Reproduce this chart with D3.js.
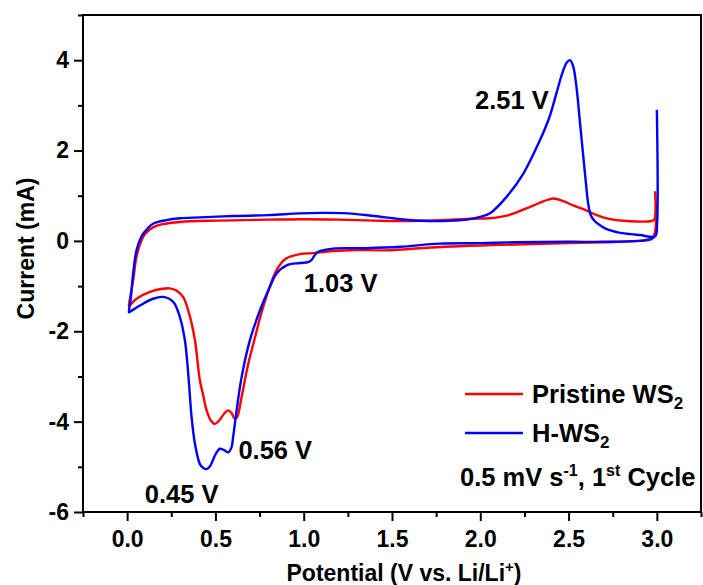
<!DOCTYPE html>
<html>
<head>
<meta charset="utf-8">
<script src="https://cdn.jsdelivr.net/npm/d3@7/dist/d3.min.js"></script>
<style>
  html, body { margin: 0; padding: 0; background: #ffffff; }
  svg { display: block; font-family: "Liberation Sans", Arial, sans-serif; font-weight: bold; }
</style>
</head>
<body>
<svg id="chart" width="703" height="585"></svg>
<script>
// ---------------- DATA ----------------
const seriesNames = ["Pristine WS", "H-WS"];
const seriesColors = ["#ff0000", "#0000ff"];

// Pristine WS2 : scan order (cathodic 3.0 -> 0.01 V, then anodic back to 3.0 V)
const pristineV = [2.99, 2.99, 2.97, 2.9, 2.7, 2.5, 2.2, 2.0, 1.8, 1.6, 1.45, 1.3, 1.15, 1.05, 0.98, 0.9, 0.85, 0.8, 0.76, 0.72, 0.686, 0.648, 0.623, 0.61, 0.59, 0.572, 0.55, 0.52, 0.497, 0.475, 0.45, 0.43, 0.412, 0.384, 0.356, 0.317, 0.28, 0.24, 0.2, 0.129, 0.053, 0.015, 0.01,
  0.015, 0.034, 0.053, 0.08, 0.1, 0.147, 0.2, 0.3, 0.5, 0.8, 1.0, 1.2, 1.4, 1.6, 1.77, 1.95, 2.05, 2.15, 2.28, 2.36, 2.414, 2.47, 2.53, 2.603, 2.66, 2.716, 2.83, 2.97, 2.985, 2.99];
const pristineI = [1.1, 0.2, 0.04, 0.0, -0.03, -0.05, -0.08, -0.1, -0.13, -0.18, -0.21, -0.2, -0.23, -0.27, -0.29, -0.39, -0.62, -1.1, -1.6, -2.2, -2.72, -3.46, -3.9, -3.94, -3.8, -3.75, -3.82, -3.98, -4.05, -3.98, -3.75, -3.4, -3.09, -2.2, -1.68, -1.24, -1.1, -1.05, -1.06, -1.13, -1.28, -1.43, -1.45,
  -1.3, -0.87, -0.35, 0.0, 0.15, 0.3, 0.37, 0.42, 0.45, 0.47, 0.48, 0.47, 0.45, 0.44, 0.46, 0.49, 0.5, 0.56, 0.75, 0.88, 0.94, 0.88, 0.78, 0.67, 0.57, 0.5, 0.44, 0.44, 0.47, 1.1];

// H-WS2
const hws2V = [3.0, 3.0, 2.99, 2.96, 2.9, 2.7, 2.5, 2.2, 2.0, 1.77, 1.545, 1.35, 1.167, 1.082, 1.06, 1.045, 1.025, 0.978, 0.903, 0.846, 0.808, 0.752, 0.695, 0.648, 0.62, 0.6, 0.591, 0.572, 0.55, 0.525, 0.51, 0.497, 0.47, 0.45, 0.43, 0.412, 0.384, 0.365, 0.346, 0.327, 0.299, 0.261, 0.204, 0.147, 0.072, 0.015, 0.01,
  0.02, 0.034, 0.053, 0.08, 0.11, 0.147, 0.223, 0.3, 0.412, 0.6, 0.8, 0.978, 1.1, 1.25, 1.4, 1.55, 1.7, 1.85, 1.923, 2.0, 2.055, 2.15, 2.244, 2.338, 2.39, 2.43, 2.465, 2.49, 2.508, 2.525, 2.545, 2.565, 2.593, 2.612, 2.625, 2.645, 2.68, 2.716, 2.78, 2.85, 2.905, 2.99, 3.0];
const hws2I = [2.9, 0.3, 0.1, 0.04, 0.0, -0.02, -0.02, -0.03, -0.05, -0.06, -0.13, -0.16, -0.17, -0.24, -0.33, -0.42, -0.47, -0.49, -0.54, -0.72, -1.02, -1.54, -2.2, -3.02, -3.75, -4.35, -4.57, -4.68, -4.63, -4.6, -4.66, -4.75, -4.98, -5.05, -5.02, -4.94, -4.49, -3.9, -2.94, -2.2, -1.69, -1.35, -1.24, -1.28, -1.43, -1.57, -1.58,
  -1.3, -0.72, -0.21, 0.09, 0.25, 0.38, 0.46, 0.5, 0.52, 0.55, 0.57, 0.61, 0.62, 0.61, 0.55, 0.48, 0.44, 0.45, 0.47, 0.53, 0.61, 0.98, 1.49, 2.23, 2.72, 3.25, 3.72, 3.95, 4.0, 3.88, 3.4, 2.6, 1.49, 0.8, 0.58, 0.45, 0.34, 0.26, 0.19, 0.15, 0.13, 0.1, 0.3];

const xMajorTicks = [0.0, 0.5, 1.0, 1.5, 2.0, 2.5, 3.0];
const xMinorTicks = [-0.25, 0.25, 0.75, 1.25, 1.75, 2.25, 2.75, 3.25];
const yMajorTicks = [-6, -4, -2, 0, 2, 4];
const yMinorTicks = [-5, -3, -1, 1, 3, 5];

const peakLabels = ["2.51 V", "1.03 V", "0.56 V", "0.45 V"];
const peakLabelV = [1.97, 1.0, 0.63, 0.1];
const peakLabelI = [2.92, -1.12, -4.83, -5.8];

// ---------------- CHART ----------------
const svg = d3.select("#chart");
const L = 83, R = 701, T = 15, B = 512;
const x = d3.scaleLinear().domain([-0.25, 3.25]).range([L, R]);
const y = d3.scaleLinear().domain([-6, 5]).range([B, T]);

svg.append("rect").attr("width", 703).attr("height", 585).attr("fill", "#ffffff");

const line = d3.line()
  .x(d => x(d[0])).y(d => y(d[1]))
  .curve(d3.curveCatmullRom.alpha(0.5));

const series = [
  d3.zip(pristineV, pristineI),
  d3.zip(hws2V, hws2I)
];

const plot = svg.append("g");
series.forEach((pts, i) => {
  plot.append("path")
    .attr("d", line(pts))
    .attr("fill", "none")
    .attr("stroke", seriesColors[i])
    .attr("stroke-width", 2.4)
    .attr("stroke-linejoin", "round");
});

// axes
const tickFs = 23, titleFs = 23, annFs = 25.5;
svg.append("g").attr("transform", `translate(0,${B})`)
  .call(d3.axisBottom(x).tickValues(xMajorTicks).tickSize(9).tickPadding(10).tickFormat(d3.format(".1f")));
svg.append("g").attr("transform", `translate(0,${B})`)
  .call(d3.axisBottom(x).tickValues(xMinorTicks).tickSize(5).tickFormat(""));
svg.append("g").attr("transform", `translate(${L},0)`)
  .call(d3.axisLeft(y).tickValues(yMajorTicks).tickSize(9).tickPadding(5).tickFormat(d => String(d)));
svg.append("g").attr("transform", `translate(${L},0)`)
  .call(d3.axisLeft(y).tickValues(yMinorTicks).tickSize(5).tickFormat(""));

svg.selectAll(".domain").remove();
svg.selectAll(".tick line").attr("stroke", "#000").attr("stroke-width", 2);
svg.selectAll(".tick text")
  .attr("fill", "#000")
  .style("font-family", '"Liberation Sans", Arial, sans-serif')
  .style("font-weight", "bold")
  .style("font-size", tickFs + "px");

// frame
svg.append("rect")
  .attr("x", L).attr("y", T).attr("width", R - L).attr("height", B - T)
  .attr("fill", "none").attr("stroke", "#000").attr("stroke-width", 2);

// axis titles
const xt = svg.append("text")
  .attr("x", (x(0) + x(3)) / 2 + 12).attr("y", 581)
  .attr("text-anchor", "middle").attr("font-size", titleFs).attr("fill", "#000");
xt.append("tspan").text("Potential (V vs. Li/Li");
xt.append("tspan").text("+").attr("font-size", 15).attr("dy", -9);
xt.append("tspan").text(")").attr("dy", 9);

svg.append("text")
  .attr("transform", `translate(34,${(T + B) / 2 - 15}) rotate(-90)`)
  .attr("text-anchor", "middle").attr("font-size", titleFs).attr("fill", "#000")
  .text("Current (mA)");

// peak labels
peakLabels.forEach((t, i) => {
  svg.append("text")
    .attr("x", x(peakLabelV[i])).attr("y", y(peakLabelI[i]))
    .attr("font-size", annFs).attr("fill", "#000").text(t);
});

// legend
const legY = [394, 433];
seriesNames.forEach((n, i) => {
  svg.append("line").attr("x1", 465).attr("x2", 523).attr("y1", legY[i]).attr("y2", legY[i])
    .attr("stroke", seriesColors[i]).attr("stroke-width", 2.4);
  const t = svg.append("text").attr("x", 532).attr("y", legY[i] + 9)
    .attr("font-size", annFs).attr("fill", "#000");
  t.append("tspan").text(n);
  t.append("tspan").text("2").attr("font-size", 17).attr("dy", 6);
});
const cond = svg.append("text").attr("x", 460).attr("y", 486).attr("font-size", annFs).attr("fill", "#000");
cond.append("tspan").text("0.5 mV s");
cond.append("tspan").text("-1").attr("font-size", 16).attr("dy", -10);
cond.append("tspan").text(", 1").attr("dy", 10);
cond.append("tspan").text("st").attr("font-size", 16).attr("dy", -10);
cond.append("tspan").text(" Cycle").attr("dy", 10);
</script>
</body>
</html>
